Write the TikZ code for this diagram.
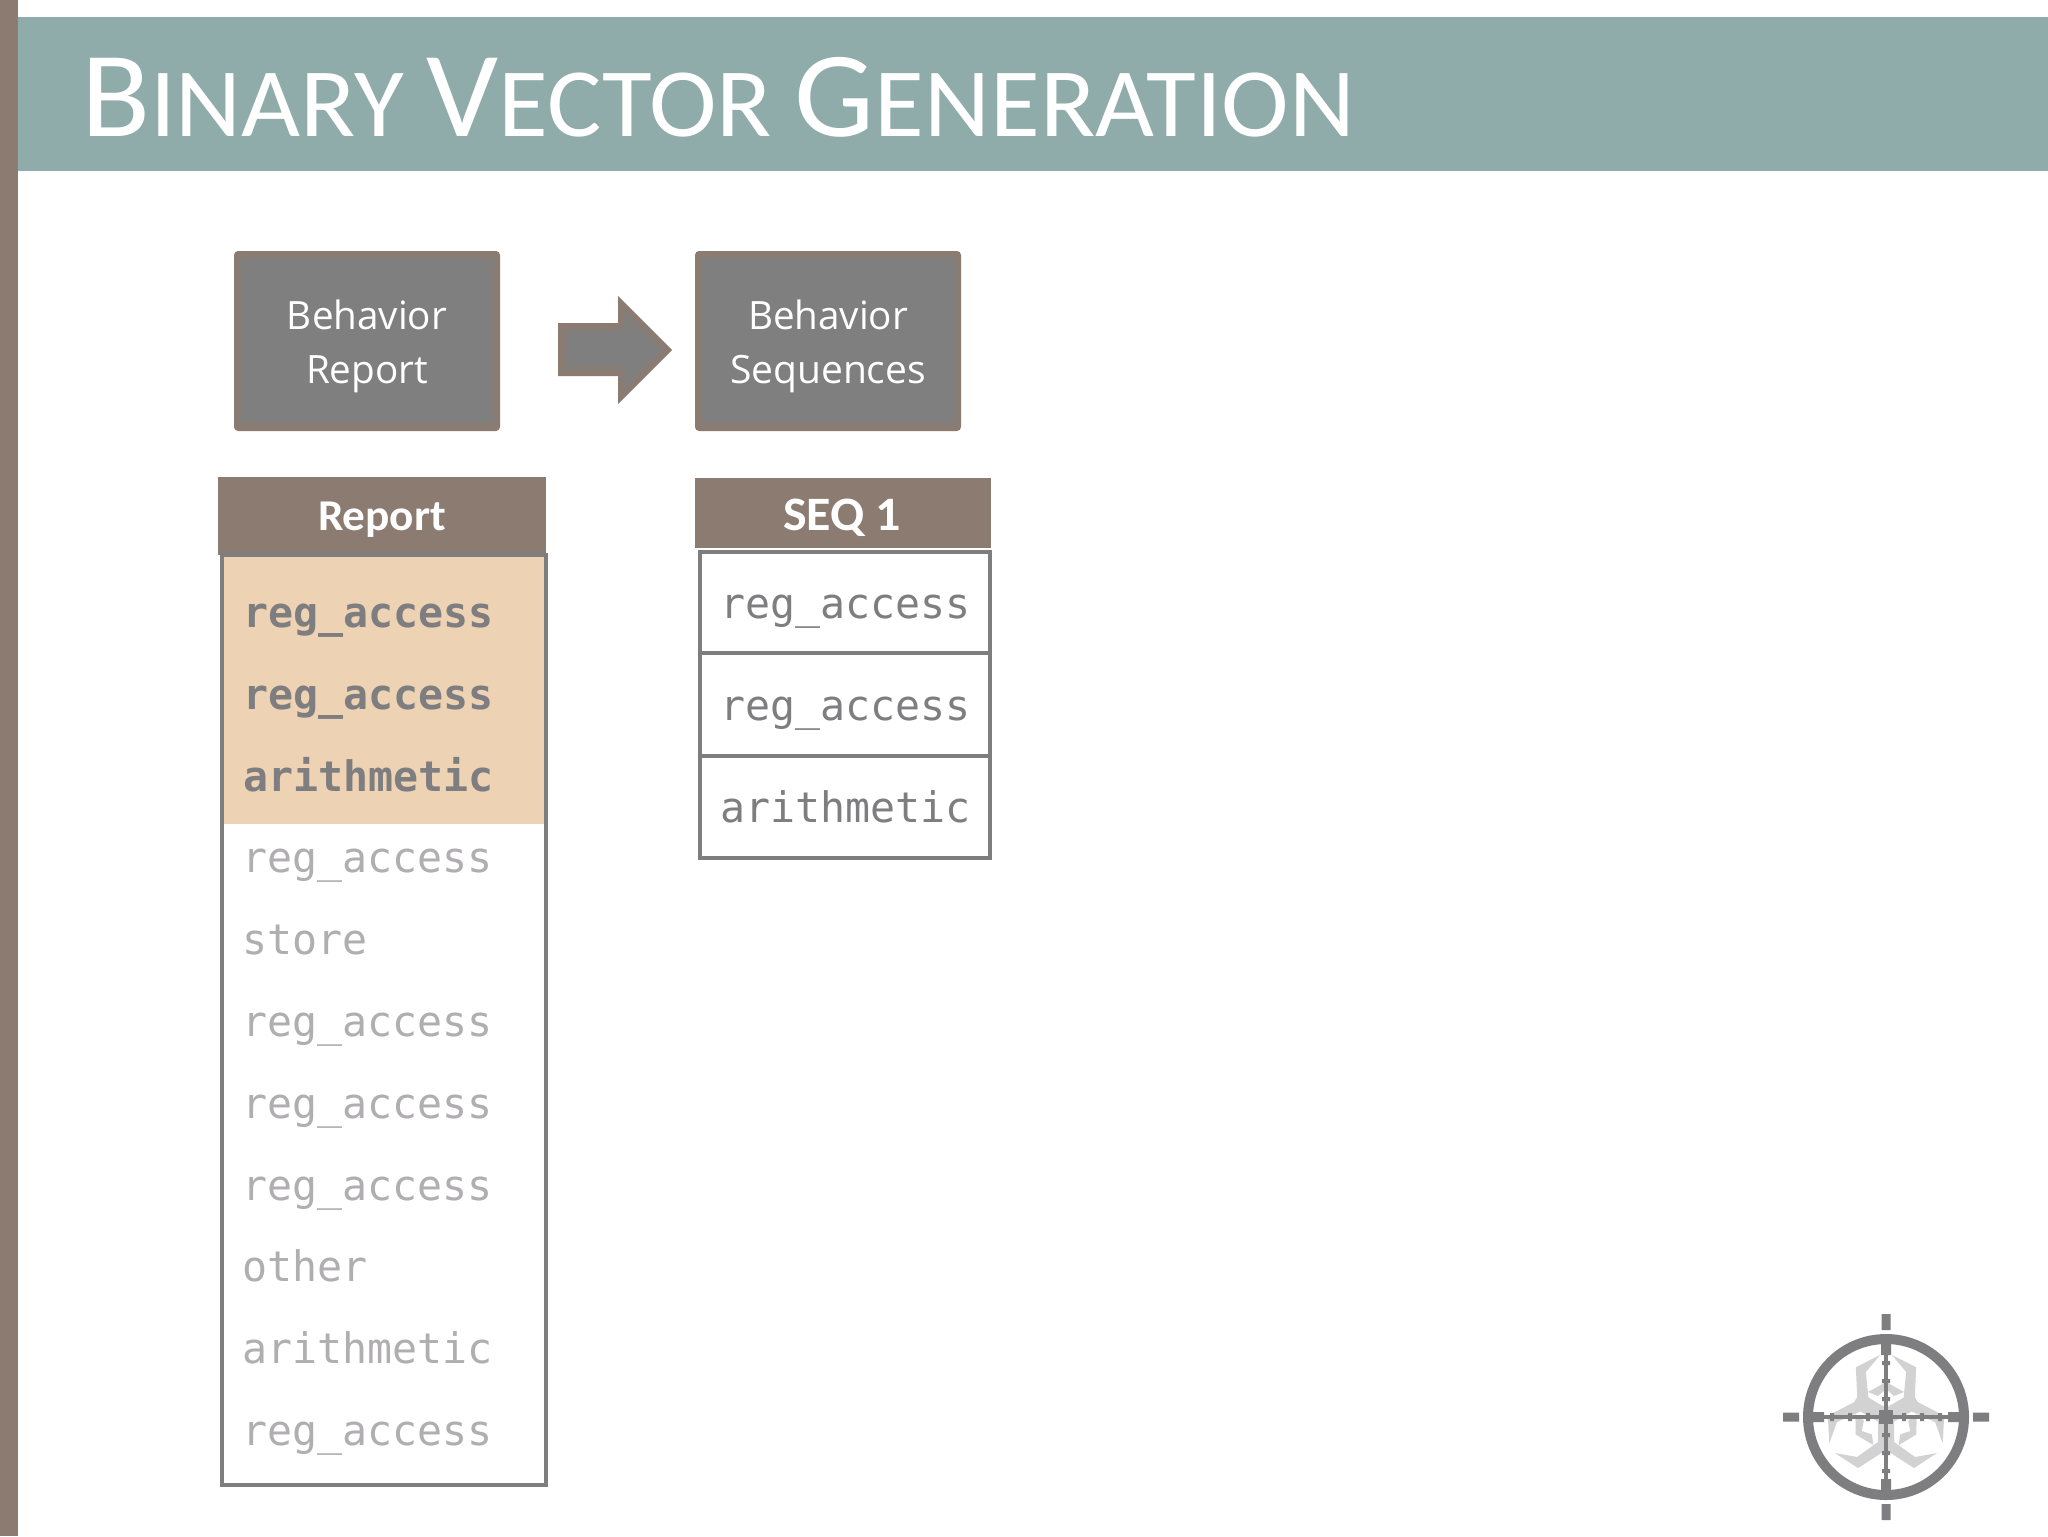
\documentclass[tikz,border=0pt]{standalone}
\usepackage{graphicx}
\usepackage{fontspec}
\setmainfont{Open Sans}
\newfontfamily\calib{Carlito}
\newfontfamily\monof{DejaVu Sans Mono}
\newfontfamily\titlef{Carlito}
\definecolor{banner}{HTML}{8FABAA}
\definecolor{brownbar}{HTML}{8B7B70}
\definecolor{boxgray}{HTML}{7F7F7F}
\definecolor{boxmix}{HTML}{857D78}
\definecolor{hl}{HTML}{EDD2B3}
\definecolor{dimtext}{HTML}{B0AEB0}
\definecolor{monogray}{HTML}{7E7E80}
\definecolor{bio}{HTML}{D2D2D2}
\newcommand\fsz[1]{\fontsize{#1}{#1}\selectfont}
\newcommand\monotxt[1]{\scalebox{0.99}[1]{\fsz{21}\monof #1}}
\newcommand\monobold[1]{\scalebox{0.99}[1]{\fsz{21}\monof\bfseries #1}}
\newcommand\fitw[2]{\resizebox{#1pt}{\height}{#2}}
\tikzset{
  x=0.5pt,y=-0.5pt,
  txt/.style={inner sep=0pt,outer sep=0pt,anchor=base west},
  ctr/.style={inner sep=0pt,outer sep=0pt,anchor=base},
  dim/.style={txt,text=dimtext},
  bold/.style={txt,text=monogray},
  seqt/.style={txt,text=monogray},
  procouter/.style={fill=brownbar,rounded corners=2pt},
  procmid/.style={fill=boxmix},
  procinner/.style={fill=boxgray},
  cell/.style={draw=monogray,line width=1.8pt},
  ringline/.style={draw=monogray},
}
\begin{document}
\begin{tikzpicture}
\useasboundingbox (0,0) rectangle (2048,1536);
\fill[white] (0,0) rectangle (2048,1536);
\fill[brownbar] (0,0) rectangle (18,1536);
\fill[banner] (18,17) rectangle (2048,171);
\node[txt,text=white] (title) at (81,136) {\fitw{637}{\titlef\fsz{61}B\fsz{49}INARY \fsz{61}V\fsz{49}ECTOR \fsz{61}G\fsz{49}ENERATION}};

\foreach \bx in {234,695}{
 \fill[procouter] (\bx,251) rectangle (\bx+266,431);
 \fill[procmid] (\bx+4,256) rectangle (\bx+262,426);
 \fill[procinner] (\bx+8,261) rectangle (\bx+258,421);
}
\node[ctr,text=white] (b1a) at (367,329) {\fitw{80}{\fsz{19.5}Behavior}};
\node[ctr,text=white] (b1b) at (367,383) {\fitw{61}{\fsz{19.5}Report}};
\node[ctr,text=white] (b2a) at (828,329) {\fitw{80}{\fsz{19.5}Behavior}};
\node[ctr,text=white] (b2b) at (828,383) {\fitw{98}{\fsz{19.5}Sequences}};

\fill[brownbar] (558,323) -- (618,323) -- (618,296) -- (672,350) -- (618,404) -- (618,376) -- (558,376) -- cycle;
\fill[boxmix] (563,328) -- (622,328) -- (622,306) -- (665,350) -- (622,394) -- (622,371) -- (563,371) -- cycle;
\fill[boxgray] (568,332) -- (626,332) -- (626,316) -- (658,350) -- (626,384) -- (626,366) -- (568,366) -- cycle;

\fill[brownbar] (218,477) rectangle (546,555);
\fill[hl] (224,556) rectangle (545,824);
\draw[cell] (222,555) rectangle (546,1485);
\node[ctr,text=white] (rep) at (382,530) {\fitw{64}{\calib\bfseries\fsz{22}Report}};

\node[bold] (r1) at (243,627) {\monobold{reg\_access}};
\node[bold] (r2) at (243,709) {\monobold{reg\_access}};
\node[bold] (r3) at (243,791) {\monobold{arithmetic}};
\node[dim] (r4) at (242,872) {\monotxt{reg\_access}};
\node[dim] (r5) at (242,954) {\monotxt{store}};
\node[dim] (r6) at (242,1036) {\monotxt{reg\_access}};
\node[dim] (r7) at (242,1118) {\monotxt{reg\_access}};
\node[dim] (r8) at (242,1200) {\monotxt{reg\_access}};
\node[dim] (r9) at (242,1281) {\monotxt{other}};
\node[dim] (r10) at (242,1363) {\monotxt{arithmetic}};
\node[dim] (r11) at (242,1445) {\monotxt{reg\_access}};

\fill[brownbar] (695,478) rectangle (991,548);
\node[ctr,text=white] (seq) at (842,530) {\fitw{59}{\calib\bfseries\fsz{24}SEQ 1}};
\draw[cell] (700,552) rectangle (990,653);
\draw[cell] (700,653) rectangle (990,756);
\draw[cell] (700,756) rectangle (990,858);
\node[seqt] (s1) at (720,618) {\monotxt{reg\_access}};
\node[seqt] (s2) at (720,720) {\monotxt{reg\_access}};
\node[seqt] (s3) at (720,822) {\monotxt{arithmetic}};

% logo
\begin{scope}[shift={(1886,1417)}]
\foreach \a in {0,120,240}{
 \begin{scope}[rotate=\a]
  \fill[bio] (-51,36) -- (-28,51) -- (-3,35) -- (3,35) -- (28,51) -- (51,36) -- (29,40) -- (8,25) -- (8,2) -- (-8,2) -- (-8,25) -- (-29,40) -- cycle;
  \fill[bio] (-18,-25) -- (0,-35) -- (18,-25) -- (8,-21) -- (0,-28) -- (-8,-21) -- cycle;
 \end{scope}}
\draw[ringline,line width=5pt] (0,0) circle (78);
\draw[ringline,line width=2pt] (-74,0) -- (74,0) (0,-74) -- (0,74);
\fill[monogray] (-7,-7) rectangle (7,7);
\fill[monogray] (-4.5,-103) rectangle (4.5,-87) (-4.5,87) rectangle (4.5,103);
\fill[monogray] (-103,-4.5) rectangle (-87,4.5) (87,-4.5) rectangle (103,4.5);
\fill[monogray] (-5,-74) rectangle (5,-62) (-5,62) rectangle (5,74);
\fill[monogray] (-74,-5) rectangle (-62,5) (62,-5) rectangle (74,5);
\foreach \t in {18,36,54}{
 \fill[monogray] (-4,-\t-2) rectangle (4,-\t+2) (-4,\t-2) rectangle (4,\t+2);
 \fill[monogray] (-\t-2,-4) rectangle (-\t+2,4) (\t-2,-4) rectangle (\t+2,4);
}
\end{scope}
\end{tikzpicture}
\end{document}
